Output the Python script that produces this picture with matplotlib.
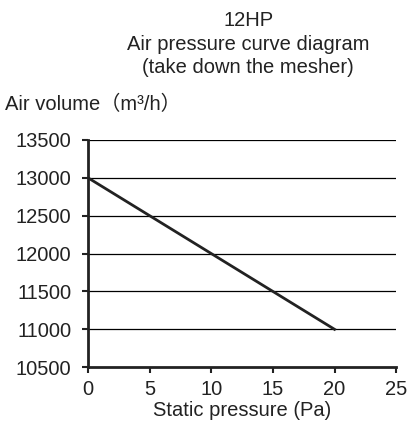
import matplotlib
matplotlib.use("Agg")
import matplotlib.pyplot as plt

# Air pressure curve data
pressure = [0, 20]
volume = [13000, 11000]
x_ticks = [0, 5, 10, 15, 20, 25]
y_ticks = [10500, 11000, 11500, 12000, 12500, 13000, 13500]

plt.rcParams['font.family'] = ['Liberation Sans', 'Noto Sans CJK SC', 'DejaVu Sans']

FS = 14.5
TXT = '#222222'

fig = plt.figure(figsize=(4.17, 4.24), dpi=100)
ax = fig.add_axes([0.211, 0.134, 0.739, 0.536])

# Horizontal grid lines
for v in y_ticks[1:]:
    ax.axhline(v, color='black', linewidth=0.9, zorder=1)

ax.plot(pressure, volume, color='#222222', linewidth=2, zorder=3)

ax.set_xlim(0, 25)
ax.set_ylim(10500, 13500)
ax.set_xticks(x_ticks)
ax.set_yticks(y_ticks)
ax.tick_params(direction='out', length=4, width=1.5, labelsize=FS, colors=TXT)
ax.tick_params(axis='y', pad=8)
ax.tick_params(axis='x', pad=5)

for s in ['top', 'right']:
    ax.spines[s].set_visible(False)
for s in ['left', 'bottom']:
    ax.spines[s].set_linewidth(2)
    ax.spines[s].set_color('#222222')

ax.set_xlabel('Static pressure (Pa)', fontsize=FS, color=TXT, labelpad=2)

fig.text(0.012, 0.753, 'Air volume（m³/h）', fontsize=FS, color=TXT, va='center', ha='left')
fig.text(0.595, 0.952, '12HP', fontsize=FS, color=TXT, ha='center', va='center')
fig.text(0.595, 0.895, 'Air pressure curve diagram', fontsize=FS, color=TXT, ha='center', va='center')
fig.text(0.595, 0.840, '(take down the mesher)', fontsize=FS, color=TXT, ha='center', va='center')

fig.savefig('out.png', dpi=100)
